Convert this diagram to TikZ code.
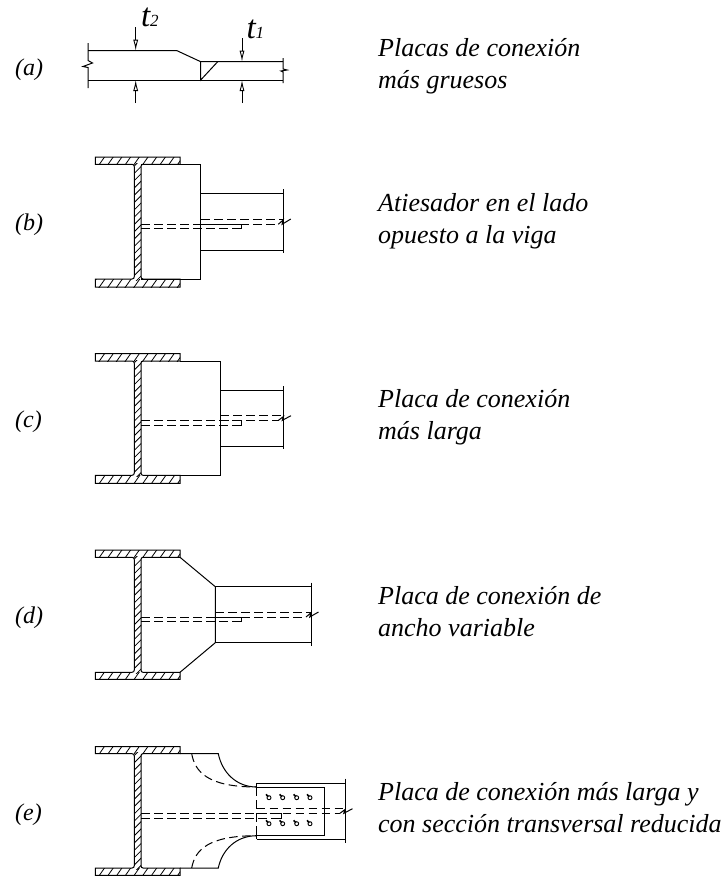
\documentclass[tikz,border=0pt]{standalone}
\usepackage{fontspec}
\setmainfont{Liberation Serif}
\usetikzlibrary{arrows.meta}
\tikzset{
 ln/.style={line width=1pt,black},
 hatchln/.style={line width=0.8pt,black},
 dash1/.style={line width=1pt,black,dash pattern=on 8.5pt off 4.5pt},
 dimln/.style={line width=0.9pt,black,-{Latex[open,length=11pt,width=5pt]}},
 labtxt/.style={anchor=base west,inner sep=0pt,font=\fontsize{24}{28}\selectfont\itshape},
 captxt/.style={anchor=base west,inner sep=0pt,align=left,font=\fontsize{26}{32}\selectfont\itshape},
 symtxt/.style={anchor=base west,inner sep=0pt,font=\fontsize{33}{33}\selectfont\itshape},
 subtxt/.style={anchor=base west,inner sep=0pt,font=\fontsize{17}{17}\selectfont\itshape}
}
% I-section: flange top, flange inner, inner, flange bottom
\newcommand{\ibeam}[4]{%
 \begin{scope}
  \clip (95.3,#1) rectangle (180,#2);
  \foreach \k in {90,98.7,...,190} {\draw[hatchln] (\k,#2+1) -- ++(7,-10);}
 \end{scope}
 \begin{scope}
  \clip (95.3,#3) rectangle (180,#4);
  \foreach \k in {90,98.7,...,190} {\draw[hatchln] (\k,#4+1) -- ++(7,-10);}
 \end{scope}
 \begin{scope}
  \clip (134.3,#2-1) rectangle (141,#3+1);
  \pgfmathsetmacro{\yy}{#2+3}
  \pgfmathsetmacro{\yyb}{#2+3+7.3}
  \pgfmathsetmacro{\yye}{#3+10}
  \foreach \k in {\yy,\yyb,...,\yye} {\draw[hatchln] (133,\k) -- ++(10,-10);}
 \end{scope}
 \draw[ln] (95.3,#1) -- (180,#1) -- (180,#2) -- (143,#2)
   .. controls (141.6,#2) and (141,#2+1) .. (141,#2+2.5) -- (141,#3-2.5)
   .. controls (141,#3-1) and (141.6,#3) .. (143,#3) -- (180,#3) -- (180,#4) -- (95.3,#4) -- (95.3,#3) -- (132,#3)
   .. controls (133.6,#3) and (134.3,#3-1) .. (134.3,#3-2.5) -- (134.3,#2+2.5)
   .. controls (134.3,#2+1) and (133.6,#2) .. (132,#2) -- (95.3,#2) -- cycle;
}
% plate centre dashes: y1, y2, right end
\newcommand{\pdash}[3]{%
 \draw[dash1] (141,#1) -- (#3,#1);
 \draw[dash1] (141,#2) -- (#3,#2);
 \draw[ln] (#3-5,#1) -- (#3,#1) -- (#3,#2) -- (#3-5,#2);
}
% beam dashes with break: x start, x end, y1, y2
\newcommand{\bdash}[4]{%
 \draw[dash1] (#1,#3) -- (#2+1,#3);
 \draw[dash1] (#1,#4) -- (#2-5,#4);
 \draw[ln] (#2-5,#4) -- (#2,#3+0.8) -- (#2-1.2,#4) -- (#2+7.5,#3);
}
\newcommand{\bolt}[2]{%
 \draw[line width=0.9pt] (#1,#2) circle (2pt);
 \draw[line width=1.6pt] (#1-0.8,#2-1) -- (#1-3,#2-3.4);
}
\begin{document}
\begin{tikzpicture}[x=1pt,y=-1pt]
\useasboundingbox (0,0) rectangle (724,876);
% (a)
\node[labtxt] (la) at (15,75) {(a)};
\draw[ln] (88,50.7) -- (177,50.7) -- (200.7,61.7) -- (283,61.7);
\draw[ln] (88,80) -- (283,80);
\draw[ln] (88,43) -- (88,60.5) -- (92.5,63) -- (83,66.5) -- (88,67.5) -- (88,88);
\draw[ln] (283,58) -- (283,69) -- (287,70) -- (281,71) -- (283,72) -- (283,83);
\draw[ln] (200.7,61.7) -- (200.7,80) -- (217.7,61.7);
\draw[dimln] (135.7,27) -- (135.7,50.7);
\draw[dimln] (135.7,103) -- (135.7,80);
\draw[dimln] (242,38) -- (242,61.7);
\draw[dimln] (242,103) -- (242,80);
\node[symtxt] (t2) at (141,26) {t};
\node[subtxt] (t2s) at (150,26) {2};
\node[symtxt] (t1) at (246.5,38) {t};
\node[subtxt] (t1s) at (255.5,38) {1};
\node[captxt] (ca) at (378,88) {Placas de conexión\\más gruesos};
% (b)
\node[labtxt] (lb) at (15,230) {(b)};
\ibeam{157}{164.3}{279}{287}
\draw[ln] (141,164.3) -- (200.7,164.3) -- (200.7,279) -- (141,279);
\draw[ln] (200.7,193.7) -- (283.3,193.7);
\draw[ln] (200.7,250) -- (283.3,250);
\draw[ln] (283.3,189) -- (283.3,253);
\pdash{224}{228.7}{241}
\bdash{201}{283.3}{219}{224.3}
\node[captxt] (cb) at (378,243.7) {Atiesador en el lado\\opuesto a la viga};
% (c)
\node[labtxt] (lc) at (15,427.7) {(c)};
\ibeam{353.7}{361}{475.3}{483.3}
\draw[ln] (180,361) -- (220,361) -- (220,475.3) -- (180,475.3);
\draw[ln] (220,390.7) -- (283.5,390.7);
\draw[ln] (220,446) -- (283.5,446);
\draw[ln] (283.5,386) -- (283.5,449);
\pdash{420.3}{425.3}{241}
\bdash{220}{283.5}{415.7}{420.3}
\node[captxt] (cc) at (378,439.7) {Placa de conexión\\más larga};
% (d)
\node[labtxt] (ld) at (15,623.3) {(d)};
\ibeam{550}{557.3}{672.3}{679.3}
\draw[ln] (180,557.3) -- (215.3,586.7) -- (215.3,642.7) -- (180,672.3);
\draw[ln] (215.3,586.7) -- (311,586.7);
\draw[ln] (215.3,642.7) -- (311,642.7);
\draw[ln] (311,582.7) -- (311,646);
\pdash{617}{621.7}{241}
\bdash{215.3}{311}{612}{617}
\node[captxt] (cd) at (378,636) {Placa de conexión de\\ancho variable};
% (e)
\node[labtxt] (le) at (15,820) {(e)};
\ibeam{746.7}{753.7}{868}{875.3}
\draw[ln] (180,753.7) -- (218.3,753.7) .. controls (222,772) and (236,787) .. (256.7,787);
\draw[ln] (180,868) -- (218.3,868) .. controls (222,850) and (236,835.7) .. (256.7,835.7);
\draw[dash1] (191.7,753.7) .. controls (195,772) and (208,787) .. (256.7,787);
\draw[dash1] (191.7,868) .. controls (195,850) and (208,835.7) .. (256.7,835.7);
\draw[ln] (256.7,783.3) -- (345,783.3);
\draw[ln] (256.7,839) -- (345,839);
\draw[ln] (345,778.7) -- (345,842.7);
\draw[ln] (256.7,783.3) -- (256.7,787) -- (324.3,787) -- (324.3,835.7) -- (256.7,835.7) -- (256.7,839);
\draw[dash1] (256.7,787) -- (256.7,835.7);
\pdash{813.3}{818.3}{281.3}
\bdash{256.7}{345}{808.7}{813.3}
\foreach \bx in {269,282.7,296.7,310} {\bolt{\bx}{797.7}\bolt{\bx}{823.7}}
\node[captxt] (ce) at (378,832) {Placa de conexión más larga y\\con sección transversal reducida};
\end{tikzpicture}
\end{document}
